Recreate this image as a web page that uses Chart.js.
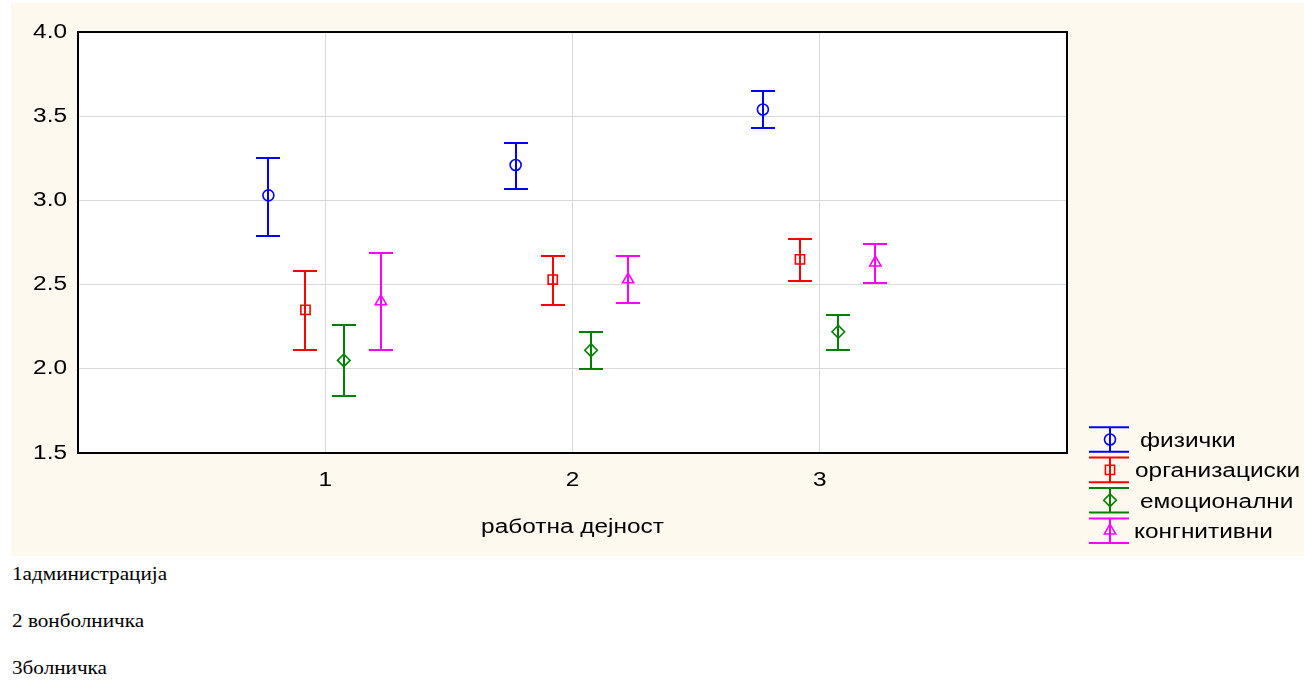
<!DOCTYPE html>
<html>
<head>
<meta charset="utf-8">
<script src="https://cdn.jsdelivr.net/npm/chart.js@4.4.1/dist/chart.umd.min.js"></script>
<style>
  html, body { margin: 0; padding: 0; background: #ffffff; width: 1304px; height: 681px; overflow: hidden; }
  #panel { position: absolute; left: 11px; top: 3px; width: 1293px; height: 553px; background: #fdf9ef; }
  #panel canvas { display: block; }
  .note { position: absolute; left: 12px; font-family: "Liberation Serif", "Times New Roman", serif;
          font-size: 19px; line-height: 1; color: #000; white-space: nowrap;
          transform: scaleX(1.115); transform-origin: 0 0; }
</style>
</head>
<body>
<div id="panel"><canvas id="chart" width="1293" height="553"></canvas></div>
<div class="note" style="top:564px">1администрација</div>
<div class="note" style="top:611px">2 вонболничка</div>
<div class="note" style="top:658px">3болничка</div>

<script>
// работна дејност (1, 2, 3)
const categories = [1, 2, 3];
const xTickLabels = ['1', '2', '3'];
const yTicks = [1.5, 2.0, 2.5, 3.0, 3.5, 4.0];
const xTitle = 'работна дејност';
const seriesNames = ['физички', 'организациски', 'емоционални', 'конгнитивни'];

// means and interval bounds per work type
const fizickiMean  = [3.03, 3.21, 3.54];
const fizickiLow   = [2.79, 3.07, 3.43];
const fizickiHigh  = [3.25, 3.34, 3.65];

const organizaciskiMean = [2.35, 2.53, 2.65];
const organizaciskiLow  = [2.11, 2.38, 2.52];
const organizaciskiHigh = [2.58, 2.67, 2.77];

const emocionalniMean = [2.05, 2.11, 2.22];
const emocionalniLow  = [1.84, 2.00, 2.11];
const emocionalniHigh = [2.26, 2.22, 2.32];

const kognitivniMean = [2.40, 2.53, 2.63];
const kognitivniLow  = [2.11, 2.39, 2.51];
const kognitivniHigh = [2.69, 2.67, 2.74];

// styling
const FONT = '20px "Liberation Sans", Arial, sans-serif';
const TEXT_STRETCH = 1.22;
const colors = ['#0000ff', '#ff0000', '#008000', '#ff00ff'];
const markerStyles = ['circle', 'rect', 'rectRot', 'triangle'];
const markerRadius = [5.5, 6.5, 6.3, 6.5];
const dodge = [-0.23, -0.08, 0.075, 0.225];
const CAP = 12;
const legendTextX = [1129, 1124, 1129, 1123];

const means = [fizickiMean, organizaciskiMean, emocionalniMean, kognitivniMean];
const lows  = [fizickiLow, organizaciskiLow, emocionalniLow, kognitivniLow];
const highs = [fizickiHigh, organizaciskiHigh, emocionalniHigh, kognitivniHigh];

const datasets = seriesNames.map((name, k) => ({
  label: name,
  data: categories.map((c, i) => ({ x: c + dodge[k], y: means[k][i], lo: lows[k][i], hi: highs[k][i] })),
  pointStyle: markerStyles[k],
  pointRadius: markerRadius[k],
  pointBorderWidth: 1.6,
  borderColor: colors[k],
  backgroundColor: 'rgba(0,0,0,0)',
  showLine: false
}));

// text drawn with a slight horizontal stretch
function stretchedText(ctx, text, x, y, align) {
  ctx.save();
  ctx.font = FONT;
  ctx.fillStyle = '#000';
  ctx.textBaseline = 'middle';
  ctx.textAlign = 'left';
  const w = ctx.measureText(text).width * TEXT_STRETCH;
  const left = align === 'right' ? x - w : align === 'center' ? x - w / 2 : x;
  ctx.translate(left, y);
  ctx.scale(TEXT_STRETCH, 1);
  ctx.fillText(text, 0, 0);
  ctx.restore();
}

function drawMarker(ctx, k, x, y) {
  ctx.save();
  ctx.strokeStyle = colors[k];
  ctx.fillStyle = 'rgba(0,0,0,0)';
  ctx.lineWidth = 1.6;
  Chart.helpers.drawPoint(ctx, { pointStyle: markerStyles[k], radius: markerRadius[k], borderWidth: 1.6, rotation: 0 }, x, y);
  ctx.restore();
}

const plotBackground = {
  id: 'plotBackground',
  beforeDraw(chart) {
    const { ctx, chartArea: a } = chart;
    ctx.save();
    ctx.fillStyle = '#ffffff';
    ctx.fillRect(a.left, a.top, a.right - a.left, a.bottom - a.top);
    ctx.restore();
  }
};

const errorBars = {
  id: 'errorBars',
  beforeDatasetsDraw(chart) {
    const { ctx, scales: { x, y } } = chart;
    ctx.save();
    ctx.lineWidth = 2;
    chart.data.datasets.forEach((ds, k) => {
      ctx.strokeStyle = colors[k];
      ds.data.forEach(p => {
        const px = Math.round(x.getPixelForValue(p.x));
        const yl = Math.round(y.getPixelForValue(p.lo));
        const yh = Math.round(y.getPixelForValue(p.hi));
        ctx.beginPath();
        ctx.moveTo(px, yh); ctx.lineTo(px, yl);
        ctx.moveTo(px - CAP, yh); ctx.lineTo(px + CAP, yh);
        ctx.moveTo(px - CAP, yl); ctx.lineTo(px + CAP, yl);
        ctx.stroke();
      });
    });
    ctx.restore();
  }
};

const axisText = {
  id: 'axisText',
  afterDraw(chart) {
    const { ctx, chartArea: a, scales: { x, y } } = chart;
    yTicks.forEach(v => stretchedText(ctx, v.toFixed(1), a.left - 11, y.getPixelForValue(v), 'right'));
    categories.forEach((c, i) => stretchedText(ctx, xTickLabels[i], x.getPixelForValue(c), a.bottom + 27, 'center'));
    stretchedText(ctx, xTitle, (a.left + a.right) / 2, a.bottom + 74, 'center');
  }
};

const frameAndLegend = {
  id: 'frameAndLegend',
  afterDraw(chart) {
    const { ctx, chartArea: a } = chart;
    ctx.save();
    ctx.strokeStyle = '#000';
    ctx.lineWidth = 2;
    ctx.strokeRect(a.left, a.top, a.right - a.left, a.bottom - a.top);

    // legend at the lower right of the panel
    const lx = 1099, capL = 1078, capR = 1118;
    seriesNames.forEach((name, k) => {
      const cy = 436.5 + 30.4 * k;
      ctx.strokeStyle = colors[k];
      ctx.lineWidth = 2;
      ctx.beginPath();
      ctx.moveTo(lx, cy - 12.3); ctx.lineTo(lx, cy + 12.3);
      ctx.moveTo(capL, cy - 12.3); ctx.lineTo(capR, cy - 12.3);
      ctx.moveTo(capL, cy + 12.3); ctx.lineTo(capR, cy + 12.3);
      ctx.stroke();
      drawMarker(ctx, k, lx, cy);
      stretchedText(ctx, name, legendTextX[k], cy + 2, 'left');
    });
    ctx.restore();
  }
};

new Chart(document.getElementById('chart'), {
  type: 'scatter',
  data: { datasets },
  options: {
    responsive: false,
    animation: false,
    devicePixelRatio: 1,
    events: [],
    layout: { padding: { left: 0, right: 237, top: 29, bottom: 0 } },
    plugins: { legend: { display: false }, tooltip: { enabled: false } },
    scales: {
      x: {
        type: 'linear', min: 0, max: 4,
        afterBuildTicks: s => { s.ticks = categories.map(v => ({ value: v })); },
        afterFit: s => { s.height = 103; },
        ticks: { display: false },
        grid: { color: '#d9d9d9', lineWidth: 1, drawTicks: false },
        border: { display: false }
      },
      y: {
        type: 'linear', min: 1.5, max: 4.0,
        afterBuildTicks: s => { s.ticks = yTicks.map(v => ({ value: v })); },
        afterFit: s => { s.width = 67; },
        ticks: { display: false },
        grid: { color: '#d9d9d9', lineWidth: 1, drawTicks: false },
        border: { display: false }
      }
    }
  },
  plugins: [plotBackground, errorBars, axisText, frameAndLegend]
});
</script>
</body>
</html>
